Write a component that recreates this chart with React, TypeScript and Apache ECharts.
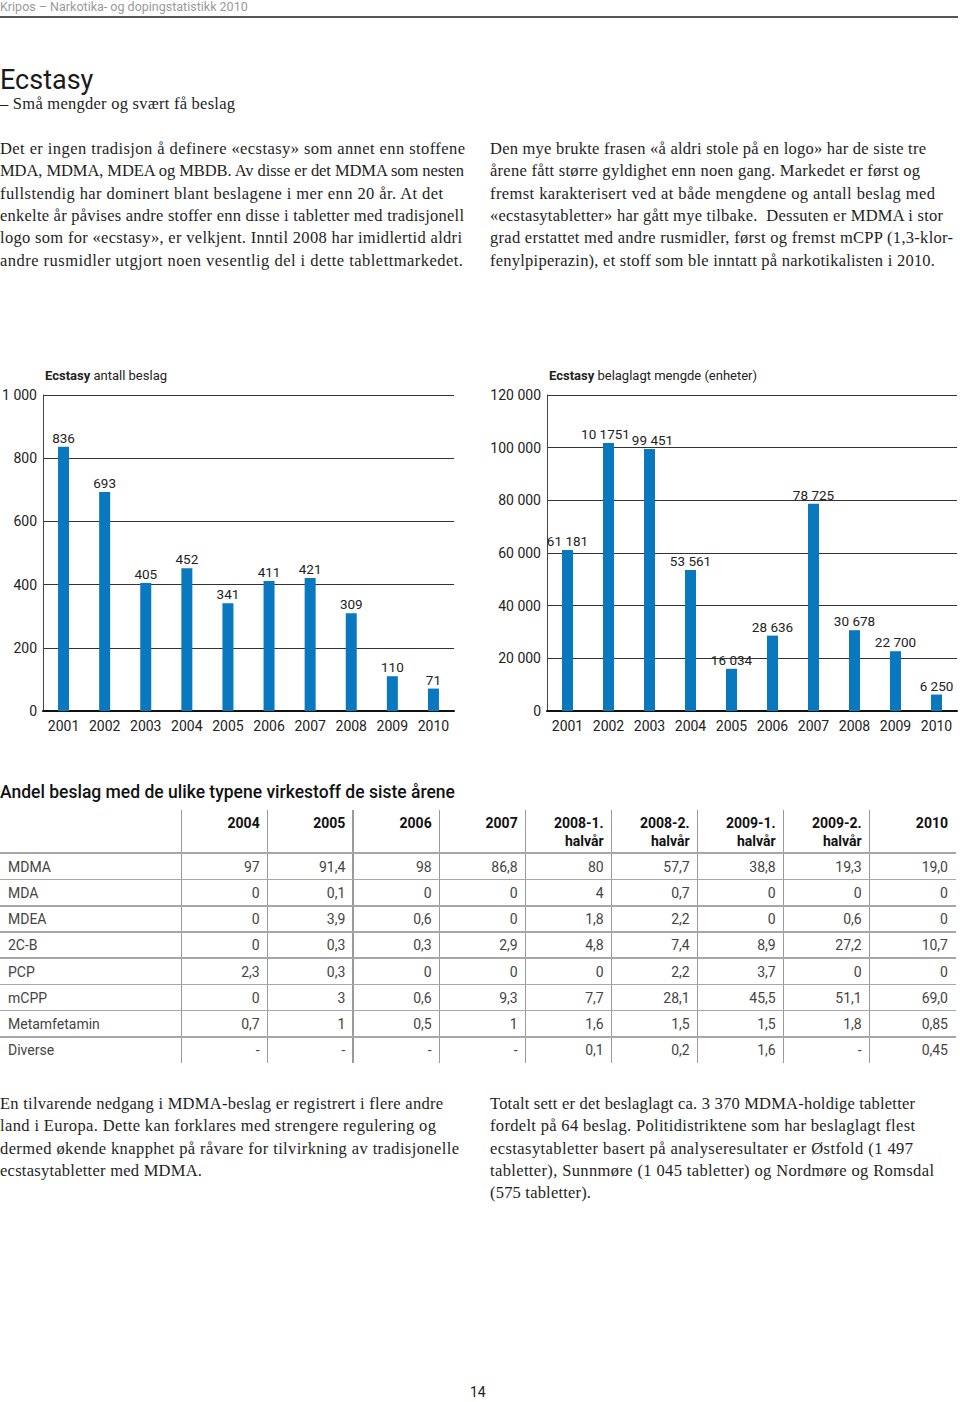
import React, { useEffect, useLayoutEffect, useRef } from "react";
import * as echarts from "echarts";

// ---------- data ----------
const years = ["2001", "2002", "2003", "2004", "2005", "2006", "2007", "2008", "2009", "2010"];
const seizureCounts = [836, 693, 405, 452, 341, 411, 421, 309, 110, 71];
const seizedUnits = [61181, 101751, 99451, 53561, 16034, 28636, 78725, 30678, 22700, 6250];
const seizedUnitLabels = ["61 181", "10 1751", "99 451", "53 561", "16 034", "28 636", "78 725", "30 678", "22 700", "6 250"];

const tableHeaders = [["2004"], ["2005"], ["2006"], ["2007"], ["2008-1.", "halvår"], ["2008-2.", "halvår"], ["2009-1.", "halvår"], ["2009-2.", "halvår"], ["2010"]];
const substances = ["MDMA", "MDA", "MDEA", "2C-B", "PCP", "mCPP", "Metamfetamin", "Diverse"];
const mdmaShare = ["97", "91,4", "98", "86,8", "80", "57,7", "38,8", "19,3", "19,0"];
const mdaShare = ["0", "0,1", "0", "0", "4", "0,7", "0", "0", "0"];
const mdeaShare = ["0", "3,9", "0,6", "0", "1,8", "2,2", "0", "0,6", "0"];
const c2bShare = ["0", "0,3", "0,3", "2,9", "4,8", "7,4", "8,9", "27,2", "10,7"];
const pcpShare = ["2,3", "0,3", "0", "0", "0", "2,2", "3,7", "0", "0"];
const mcppShare = ["0", "3", "0,6", "9,3", "7,7", "28,1", "45,5", "51,1", "69,0"];
const methShare = ["0,7", "1", "0,5", "1", "1,6", "1,5", "1,5", "1,8", "0,85"];
const diverseShare = ["-", "-", "-", "-", "0,1", "0,2", "1,6", "-", "0,45"];
const shareRows = [mdmaShare, mdaShare, mdeaShare, c2bShare, pcpShare, mcppShare, methShare, diverseShare];

const subtitle = ["– Små mengder og svært få beslag"];
const introLeft = [
  "Det er ingen tradisjon å definere «ecstasy» som annet enn stoffene",
  "MDA, MDMA, MDEA og MBDB. Av disse er det MDMA som nesten",
  "fullstendig har dominert blant beslagene i mer enn 20 år. At det",
  "enkelte år påvises andre stoffer enn disse i tabletter med tradisjonell",
  "logo som for «ecstasy», er velkjent. Inntil 2008 har imidlertid aldri",
  "andre rusmidler utgjort noen vesentlig del i dette tablettmarkedet.",
];
const introRight = [
  "Den mye brukte frasen «å aldri stole på en logo» har de siste tre",
  "årene fått større gyldighet enn noen gang. Markedet er først og",
  "fremst karakterisert ved at både mengdene og antall beslag med",
  "«ecstasytabletter» har gått mye tilbake.  Dessuten er MDMA i stor",
  "grad erstattet med andre rusmidler, først og fremst mCPP (1,3-klor-",
  "fenylpiperazin), et stoff som ble inntatt på narkotikalisten i 2010.",
];
const outroLeft = [
  "En tilvarende nedgang i MDMA-beslag er registrert i flere andre",
  "land i Europa. Dette kan forklares med strengere regulering og",
  "dermed økende knapphet på råvare for tilvirkning av tradisjonelle",
  "ecstasytabletter med MDMA.",
];
const outroRight = [
  "Totalt sett er det beslaglagt ca. 3 370 MDMA-holdige tabletter",
  "fordelt på 64 beslag. Politidistriktene som har beslaglagt flest",
  "ecstasytabletter basert på analyseresultater er Østfold (1 497",
  "tabletter), Sunnmøre (1 045 tabletter) og Nordmøre og Romsdal",
  "(575 tabletter).",
];

// ---------- layout / styles ----------
const SANS = "Roboto, 'Noto Sans', sans-serif";
const SERIF = "'Liberation Serif', 'DejaVu Serif', serif";
const PROSE = 16.5;
const BLUE = "#0a78be";
const thousands = (v: number) => String(v).replace(/\B(?=(\d{3})+(?!\d))/g, " ");

// right edge of each typeset line in the original page (layout only)
const subtitleEnds = [235];
const introLeftEnds = [465, 464, 443, 464, 462, 463];
const introRightEnds = [926, 920, 935, 943, 953, 935];
const outroLeftEnds = [443, 436, 459, 202];
const outroRightEnds = [915, 915, 913, 934, 591];

const colEdges = [181.7, 267.7, 353.3, 439.7, 525.7, 611.7, 697.7, 783.7, 869.7, 956];
const rowLines = [853.3, 879.7, 906, 932.3, 958.3, 984.7, 1010.7, 1037];
const ROW_H = 26.2;

function FitLine({ text, left, cy, lh, size, right }: { text: string; left: number; cy: number; lh: number; size: number; right: number }) {
  const ref = useRef<HTMLDivElement>(null);
  useLayoutEffect(() => {
    const el = ref.current;
    if (!el) return;
    el.style.letterSpacing = "0px";
    const w = el.getBoundingClientRect().width;
    const n = Array.from(text).length;
    if (n > 1) {
      const ls = (right - left - w) / (n - 1);
      el.style.letterSpacing = Math.max(-1.2, Math.min(1.2, ls)) + "px";
    }
  }, [text, left, right, size]);
  return (
    <div
      ref={ref}
      style={{
        position: "absolute",
        left,
        top: cy - lh / 2,
        height: lh,
        lineHeight: lh + "px",
        fontFamily: SERIF,
        fontSize: size,
        color: "#1e1e1e",
        whiteSpace: "pre",
      }}
    >
      {text}
    </div>
  );
}

function Lines({ lines, ends, left, top, lh, size }: { lines: string[]; ends: number[]; left: number; top: number; lh: number; size: number }) {
  return (
    <>
      {lines.map((t, i) => (
        <FitLine key={i} text={t} left={left} cy={top + i * lh} lh={lh} size={size} right={ends[i]} />
      ))}
    </>
  );
}

function Charts() {
  const ref = useRef<HTMLDivElement>(null);
  useEffect(() => {
    if (!ref.current) return;
    const chart = echarts.init(ref.current, undefined, { renderer: "svg" });
    const xAxisBase = {
      type: "category",
      data: years,
      axisTick: { show: false },
      axisLine: { show: true, lineStyle: { color: "#111", width: 2 } },
      axisLabel: { margin: 8, fontSize: 14, color: "#222", fontFamily: SANS },
    };
    const yAxisBase = {
      type: "value",
      min: 0,
      axisLine: { show: true, lineStyle: { color: "#444", width: 1 } },
      axisTick: { show: false },
      splitLine: { show: true, lineStyle: { color: "#333", width: 1 } },
      axisLabel: { margin: 6, fontSize: 14, color: "#222", fontFamily: SANS, formatter: (v: number) => thousands(v) },
    };
    const labelBase = { show: true, position: "top", distance: 2, fontSize: 13.5, color: "#222", fontFamily: SANS };
    // nudge the two adjacent top labels apart as in the original layout
    const labelNudge: Record<number, number> = { 1: -3, 2: 3 };
    chart.setOption({
      animation: false,
      textStyle: { fontFamily: SANS },
      title: [
        {
          left: 45,
          top: 9,
          padding: 0,
          text: "{b|Ecstasy} antall beslag",
          textStyle: { fontSize: 13, fontWeight: "normal", color: "#222", rich: { b: { fontSize: 13, fontWeight: "bold", color: "#222" } } },
        },
        {
          left: 549,
          top: 9,
          padding: 0,
          text: "{b|Ecstasy} belaglagt mengde (enheter)",
          textStyle: { fontSize: 13, fontWeight: "normal", color: "#222", rich: { b: { fontSize: 13, fontWeight: "bold", color: "#222" } } },
        },
      ],
      grid: [
        { left: 43, right: 506, top: 35, bottom: 29, containLabel: false, outerBoundsMode: "none" },
        { left: 547, right: 3, top: 35, bottom: 29, containLabel: false, outerBoundsMode: "none" },
      ],
      xAxis: [
        { ...xAxisBase, gridIndex: 0 },
        { ...xAxisBase, gridIndex: 1 },
      ],
      yAxis: [
        { ...yAxisBase, gridIndex: 0, max: 1000, interval: 200 },
        { ...yAxisBase, gridIndex: 1, max: 120000, interval: 20000 },
      ],
      series: [
        {
          type: "bar",
          xAxisIndex: 0,
          yAxisIndex: 0,
          data: seizureCounts,
          barWidth: 11,
          itemStyle: { color: BLUE },
          label: { ...labelBase },
        },
        {
          type: "bar",
          xAxisIndex: 1,
          yAxisIndex: 1,
          data: seizedUnits.map((v, i) =>
            labelNudge[i] !== undefined ? { value: v, label: { offset: [labelNudge[i], 0] } } : v
          ),
          barWidth: 11,
          itemStyle: { color: BLUE },
          label: { ...labelBase, formatter: (p: any) => seizedUnitLabels[p.dataIndex] },
        },
      ],
    });
    return () => chart.dispose();
  }, []);
  return <div ref={ref} style={{ position: "absolute", left: 0, top: 360, width: 960, height: 380 }} />;
}

function Table() {
  const cells: React.ReactNode[] = [];
  colEdges.slice(0, 9).forEach((x, i) => {
    cells.push(<div key={"v" + i} style={{ position: "absolute", left: x - 1, top: 810, width: 1.5, height: 253, background: "#9a9a9a" }} />);
  });
  rowLines.forEach((y, i) => {
    cells.push(<div key={"h" + i} style={{ position: "absolute", left: 0, top: y - 1, width: 956, height: 1.5, background: "#a6a6a6" }} />);
  });
  tableHeaders.forEach((h, c) => {
    h.forEach((t, k) => {
      cells.push(
        <div
          key={"th" + c + "_" + k}
          style={{
            position: "absolute",
            left: colEdges[c],
            width: colEdges[c + 1] - colEdges[c] - 8,
            top: 823.3 + k * 17.7 - 9,
            height: 18,
            lineHeight: "18px",
            textAlign: "right",
            fontFamily: SANS,
            fontWeight: 700,
            fontSize: 14,
            color: "#111",
            whiteSpace: "nowrap",
          }}
        >
          {t}
        </div>
      );
    });
  });
  substances.forEach((s, r) => {
    const cy = 866.8 + r * ROW_H;
    cells.push(
      <div
        key={"rl" + r}
        style={{ position: "absolute", left: 8, top: cy - 9, height: 18, lineHeight: "18px", fontFamily: SANS, fontSize: 14, color: "#444", whiteSpace: "nowrap" }}
      >
        {s}
      </div>
    );
    shareRows[r].forEach((v, c) => {
      cells.push(
        <div
          key={"td" + r + "_" + c}
          style={{
            position: "absolute",
            left: colEdges[c],
            width: colEdges[c + 1] - colEdges[c] - 8,
            top: cy - 9,
            height: 18,
            lineHeight: "18px",
            textAlign: "right",
            fontFamily: SANS,
            fontSize: 14,
            color: "#444",
            whiteSpace: "nowrap",
          }}
        >
          {v}
        </div>
      );
    });
  });
  return <>{cells}</>;
}

export default function App() {
  return (
    <div style={{ position: "absolute", left: 0, top: 0, width: 960, height: 1402, background: "#fff", overflow: "hidden" }}>
      <div style={{ position: "absolute", left: 0, top: 0, lineHeight: "14px", height: 14, fontFamily: SANS, fontSize: 12.5, color: "#9a9a9a", whiteSpace: "nowrap" }}>
        Kripos – Narkotika- og dopingstatistikk 2010
      </div>
      <div style={{ position: "absolute", left: 0, top: 16, width: 958, height: 1.5, background: "#555" }} />
      <div style={{ position: "absolute", left: 0, top: 64, lineHeight: "32px", fontFamily: SANS, fontSize: 27, color: "#1a1a1a", whiteSpace: "nowrap" }}>
        Ecstasy
      </div>
      <Lines lines={subtitle} ends={subtitleEnds} left={0} top={104} lh={22} size={PROSE} />
      <Lines lines={introLeft} ends={introLeftEnds} left={0} top={149} lh={22.4} size={PROSE} />
      <Lines lines={introRight} ends={introRightEnds} left={490} top={149} lh={22.4} size={PROSE} />
      <Charts />
      <div style={{ position: "absolute", left: 0, top: 781, lineHeight: "22px", fontFamily: SANS, fontWeight: 500, fontSize: 17.5, color: "#111", whiteSpace: "nowrap" }}>
        Andel beslag med de ulike typene virkestoff de siste årene
      </div>
      <Table />
      <Lines lines={outroLeft} ends={outroLeftEnds} left={0} top={1104} lh={22.4} size={PROSE} />
      <Lines lines={outroRight} ends={outroRightEnds} left={490} top={1104} lh={22.4} size={PROSE} />
      <div style={{ position: "absolute", left: 470, top: 1383, lineHeight: "18px", fontFamily: SANS, fontSize: 14, color: "#222" }}>14</div>
    </div>
  );
}
